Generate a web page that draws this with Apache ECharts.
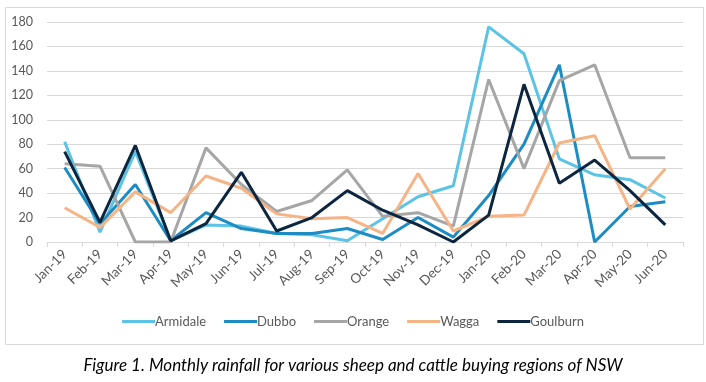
<!DOCTYPE html>
<html>
<head>
<meta charset="utf-8">
<script src="https://cdn.jsdelivr.net/npm/echarts@6/dist/echarts.min.js"></script>
<style>
html,body{margin:0;padding:0;background:#fff;}
#chart{width:706px;height:382px;}
</style>
</head>
<body>
<div id="chart"></div>
<script>
var categories = ['Jan-19','Feb-19','Mar-19','Apr-19','May-19','Jun-19','Jul-19','Aug-19','Sep-19','Oct-19','Nov-19','Dec-19','Jan-20','Feb-20','Mar-20','Apr-20','May-20','Jun-20'];
var armidale = [82, 8, 74, 1, 14, 13, 7, 6, 1, 19, 37, 46, 176, 154, 68, 55, 51, 36];
var dubbo    = [61, 15, 47, 1, 24, 11, 7, 7, 11, 2, 20, 4, 38, 80, 145, 0, 29, 33];
var orange   = [64, 62, 0, 0, 77, 47, 25, 34, 59, 21, 24, 13, 133, 60, 132, 145, 69, 69];
var wagga    = [28, 12, 41, 24, 54, 44, 23, 19, 20, 7, 56, 9, 21, 22, 81, 87, 27, 60];
var goulburn = [74, 16, 79, 1, 15, 57, 9, 20, 42, 26, 14, 0, 22, 129, 48, 67, 42, 14];
var yTicks = {min: 0, max: 180, interval: 20};
var caption = 'Figure 1. Monthly rainfall for various sheep and cattle buying regions of NSW';

var FONT = 'Lato, "Liberation Sans", sans-serif';
var colors = ['#5BC3E6', '#1C8CC2', '#A6A6A6', '#F4B486', '#0C2640'];
function mk(name, data, i) {
  return {
    name: name, type: 'line', data: data, symbol: 'none', smooth: false,
    lineStyle: {width: 3, color: colors[i]}, itemStyle: {color: colors[i]},
    emphasis: {disabled: true}
  };
}
var chart = echarts.init(document.getElementById('chart'), null, {renderer: 'canvas'});
chart.setOption({
  animation: false,
  backgroundColor: '#fff',
  textStyle: {fontFamily: FONT},
  grid: {left: 47, right: 23, top: 22, bottom: 140, containLabel: false},
  legend: {
    top: 310, left: 'center',
    icon: 'rect', itemWidth: 33, itemHeight: 3, itemGap: 18,
    textStyle: {fontFamily: FONT, fontSize: 13, color: '#595959', padding: [0,0,0,-5]},
    data: ['Armidale','Dubbo','Orange','Wagga','Goulburn']
  },
  xAxis: {
    type: 'category', data: categories, boundaryGap: true,
    axisLine: {lineStyle: {color: '#D9D9D9', width: 1}},
    axisTick: {show: true, interval: 0, length: 5, lineStyle: {color: '#D9D9D9'}},
    axisLabel: {interval: 0, rotate: 45, fontFamily: FONT, fontSize: 13.5, color: '#595959', margin: 10}
  },
  yAxis: {
    type: 'value', min: yTicks.min, max: yTicks.max, interval: yTicks.interval,
    axisLine: {show: false}, axisTick: {show: false},
    splitLine: {lineStyle: {color: '#D9D9D9', width: 1}},
    axisLabel: {fontFamily: FONT, fontSize: 12.5, color: '#595959', margin: 14}
  },
  graphic: [
    {type: 'rect', left: 3, top: 5, shape: {width: 698, height: 337}, style: {fill: 'none', stroke: '#D9D9D9', lineWidth: 1}, z: -1, silent: true},
    {type: 'text', left: 'center', top: 357, style: {text: caption, font: 'italic 17px ' + FONT, fill: '#000'}}
  ],
  series: [
    mk('Armidale', armidale, 0),
    mk('Dubbo', dubbo, 1),
    mk('Orange', orange, 2),
    mk('Wagga', wagga, 3),
    mk('Goulburn', goulburn, 4)
  ]
});
</script>
</body>
</html>
